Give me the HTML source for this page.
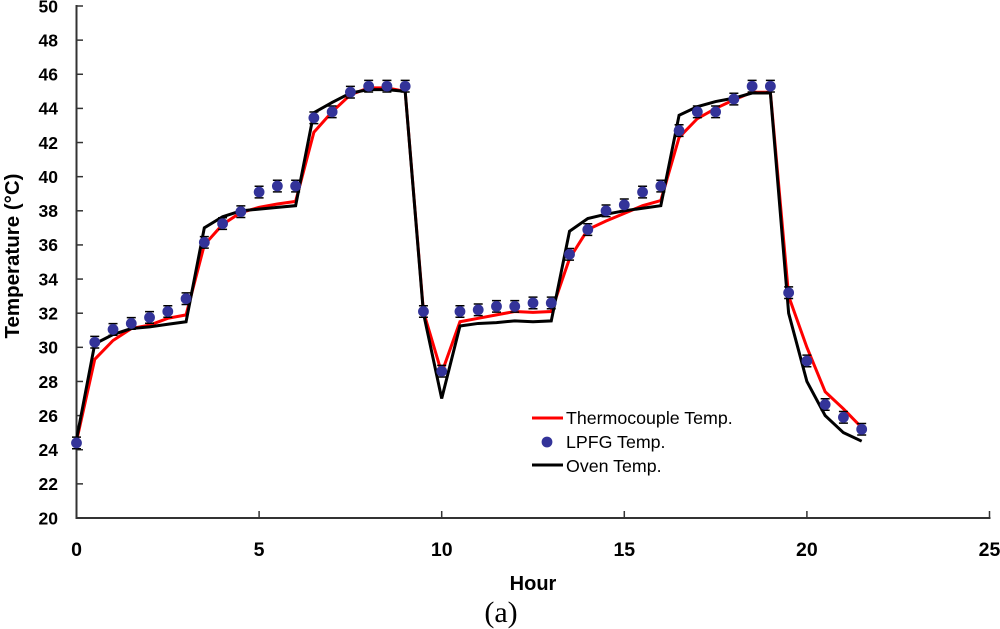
<!DOCTYPE html>
<html lang="en">
<head>
<meta charset="utf-8">
<title>Temperature chart</title>
<style>
html,body{margin:0;padding:0;background:#fff;}
svg{display:block;}
text{font-family:"Liberation Sans",Arial,sans-serif;fill:#000;}
.ytick{font-weight:bold;font-size:17.5px;}
.xtick{font-weight:bold;font-size:19.5px;}
</style>
</head>
<body>
<svg id="chart" width="1000" height="629" viewBox="0 0 1000 629" xmlns="http://www.w3.org/2000/svg"></svg>
<script>
const hours = [0,0.5,1,1.5,2,2.5,3,3.5,4,4.5,5,5.5,6,6.5,7,7.5,8,8.5,9,9.5,10,10.5,11,11.5,12,12.5,13,13.5,14,14.5,15,15.5,16,16.5,17,17.5,18,18.5,19,19.5,20,20.5,21,21.5];
const thermocoupleTemp = [24.5,29.3,30.4,31.1,31.3,31.7,31.9,36,37.2,37.9,38.2,38.4,38.55,42.6,43.8,44.8,45.2,45.2,45,32.1,28.5,31.5,31.7,31.9,32.1,32.05,32.1,35.2,36.9,37.4,37.85,38.3,38.6,42.3,43.4,44,44.5,44.95,44.95,33,30,27.4,26.4,25.3];
const ovenTemp = [24.6,30.2,30.75,31.1,31.2,31.35,31.5,37,37.65,38,38.1,38.2,38.3,43.75,44.35,44.9,45.1,45.1,45,32,27,31.25,31.4,31.45,31.55,31.5,31.55,36.8,37.55,37.8,38,38.15,38.3,43.6,44.1,44.4,44.6,44.9,44.9,32,28,26,25,24.5];
const lpfgTemp = [24.4,30.3,31.05,31.4,31.75,32.1,32.85,36.15,37.25,37.95,39.1,39.45,39.45,43.45,43.8,44.95,45.3,45.3,45.3,32.1,28.6,32.1,32.2,32.4,32.4,32.6,32.6,35.45,36.9,38,38.35,39.1,39.45,42.7,43.8,43.8,44.55,45.3,45.3,33.2,29.2,26.65,25.9,25.2];
const lpfgError = 0.34;
const xTicks = [0,5,10,15,20,25];
const yTicks = [20,22,24,26,28,30,32,34,36,38,40,42,44,46,48,50];

const svg = document.getElementById('chart');
const NS = 'http://www.w3.org/2000/svg';
function xScale(v){ return 76.5 + (v - 0) * (989.5 - 76.5) / 25; }
function yScale(v){ return 518 - (v - 20) * (518 - 6) / 30; }
function make(tag, attrs, parent){
  const el = document.createElementNS(NS, tag);
  for (const k in attrs) el.setAttribute(k, attrs[k]);
  (parent || svg).appendChild(el);
  return el;
}
function pointsOf(values){
  return values.map(function(v, i){ return xScale(hours[i]).toFixed(2) + ',' + yScale(v).toFixed(2); }).join(' ');
}

// axes
const axisColor = '#333';
const yAxis = make('line', {x1:xScale(0), x2:xScale(0), y1:yScale(50)-1, y2:yScale(20)+1, stroke:axisColor, 'stroke-width':2});


const xAxis = make('line', {x1:xScale(0)-1, x2:xScale(25)+1, y1:yScale(20), y2:yScale(20), stroke:axisColor, 'stroke-width':2});



yTicks.forEach(function(t){
  const m = make('line', {x1:xScale(0), x2:xScale(0)+6.5, y1:yScale(t), y2:yScale(t), stroke:axisColor, 'stroke-width':1.5});
  
  
  const l = make('text', {x:58, y:yScale(t)+6.3, 'text-anchor':'end', 'class':'ytick'});
  
  
  l.textContent = t;
});
xTicks.forEach(function(t){
  const m = make('line', {x1:xScale(t), x2:xScale(t), y1:yScale(20), y2:yScale(20)-7, stroke:axisColor, 'stroke-width':1.5});
  
  
  const l = make('text', {x:xScale(t), y:556, 'text-anchor':'middle', 'class':'xtick'});
  
  
  l.textContent = t;
});

// series
const redLine = make('polyline', {points:pointsOf(thermocoupleTemp), fill:'none', stroke:'#ff0000', 'stroke-width':3, 'stroke-linejoin':'miter'});


const blackLine = make('polyline', {points:pointsOf(ovenTemp), fill:'none', stroke:'#000', 'stroke-width':3, 'stroke-linejoin':'miter'});



lpfgTemp.forEach(function(v, i){
  const cx = xScale(hours[i]);
  const top = yScale(v + lpfgError), bot = yScale(v - lpfgError);
  const err = make('path', {d:'M'+(cx-4.5)+' '+top+'H'+(cx+4.5)+'M'+cx+' '+top+'V'+bot+'M'+(cx-4.5)+' '+bot+'H'+(cx+4.5), stroke:'#000', 'stroke-width':1.5, fill:'none'});
  
  
  const pt = make('circle', {cx:cx, cy:yScale(v), r:5.4, fill:'#333399'});
  
  
});
</script>
<script>
(function(){
  const s = document.getElementById('chart');
  const N = 'http://www.w3.org/2000/svg';
  function add(tag, attrs, txt){
    const e = document.createElementNS(N, tag);
    for (const k in attrs) e.setAttribute(k, attrs[k]);
    if (txt) e.textContent = txt;
    s.appendChild(e);
    return e;
  }
  const yTitle = add('text', {transform:'translate(19,256) rotate(-90)', 'text-anchor':'middle', 'font-weight':'bold', 'font-size':'20.5px'}, 'Temperature (°C)');
  
  
  const xTitle = add('text', {x:533, y:590, 'text-anchor':'middle', 'font-weight':'bold', 'font-size':'20px'}, 'Hour');
  
  
  const cap = add('text', {x:501, y:622, 'text-anchor':'middle', 'font-size':'30px', style:'font-family:"Liberation Serif",serif'}, '(a)');
  
  

  const k1 = add('line', {x1:532, x2:563, y1:418, y2:418, stroke:'#ff0000', 'stroke-width':3});
  
  
  const t1 = add('text', {x:566, y:424, 'font-size':'17.8px'}, 'Thermocouple Temp.');
  
  
  const k2 = add('circle', {cx:547, cy:442, r:5.4, fill:'#333399'});
  
  
  const t2 = add('text', {x:566, y:448, 'font-size':'17.8px'}, 'LPFG Temp.');
  
  
  const k3 = add('line', {x1:532, x2:563, y1:465, y2:465, stroke:'#000', 'stroke-width':3});
  
  
  const t3 = add('text', {x:566, y:472, 'font-size':'17.8px'}, 'Oven Temp.');
  
  
})();
</script>
</body>
</html>
